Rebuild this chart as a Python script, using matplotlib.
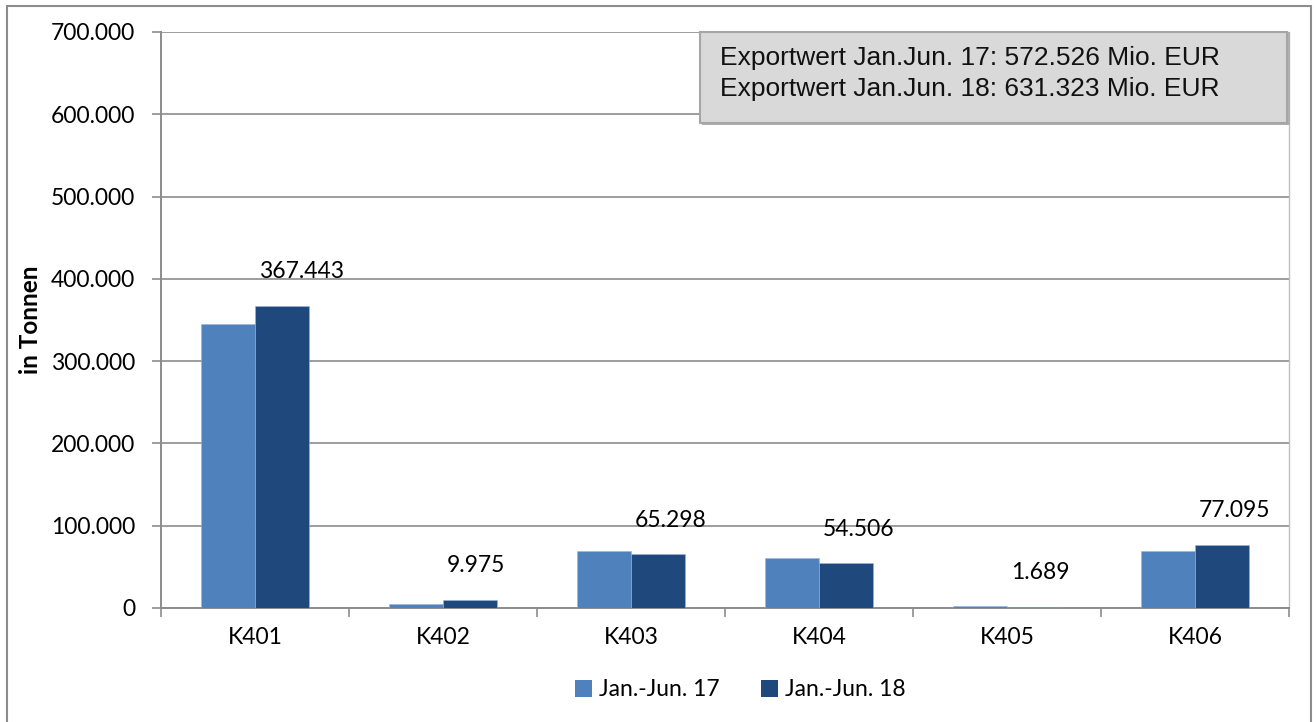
import numpy as np
import matplotlib.pyplot as plt
from matplotlib.patches import Rectangle, Patch

# Exportmengen in Tonnen, Jan.-Jun.
categories = ['K401', 'K402', 'K403', 'K404', 'K405', 'K406']
jan_jun_17 = [345500, 4700, 69000, 60400, 1900, 69800]
jan_jun_18 = [367443, 9975, 65298, 54506, 1689, 77095]
series_names = ['Jan.-Jun. 17', 'Jan.-Jun. 18']
info_lines = ['Exportwert Jan.Jun. 17: 572.526 Mio. EUR',
              'Exportwert Jan.Jun. 18: 631.323 Mio. EUR']

def de_fmt(v):
    return f"{v:,.0f}".replace(',', '.')

grid_col = '#8C8C8C'
c17 = '#4F81BD'
c18 = '#1F497D'
font = 'Lato'

fig = plt.figure(figsize=(13.16, 7.22), dpi=100)
ax = fig.add_axes([161 / 1316, 1 - 608 / 722, (1289 - 161) / 1316, (608 - 32) / 722])

x = np.arange(len(categories))
w = 0.285
ax.bar(x - w / 2, jan_jun_17, w, color=c17, edgecolor='#9DB5D8', linewidth=0.4, zorder=3)
ax.bar(x + w / 2, jan_jun_18, w, color=c18, edgecolor='#9DB5D8', linewidth=0.4, zorder=3)

# data labels only for the 2018 series
for xi, v in zip(x, jan_jun_18):
    ax.annotate(de_fmt(v), (xi, v), xytext=(3, 17), textcoords='offset points',
                ha='left', va='bottom', fontsize=16.5, family=font, color='black')

ax.set_xlim(-0.5, len(categories) - 0.5)
ax.set_ylim(0, 700000)
ax.set_yticks(np.arange(0, 700001, 100000))
ax.set_yticklabels([de_fmt(t) for t in np.arange(0, 700001, 100000)],
                   fontsize=16.5, family=font)
ax.set_xticks(x)
ax.set_xticklabels(categories, fontsize=16.5, family=font)
ax.set_xticks(np.arange(-0.5, len(categories)), minor=True)
ax.tick_params(axis='x', which='major', length=0, pad=14)
ax.tick_params(axis='x', which='minor', length=6.5, width=1.2, color=grid_col)
ax.tick_params(axis='y', length=6.5, width=1.2, color=grid_col, pad=12)

ax.grid(axis='y', color=grid_col, linewidth=1.2, zorder=0)
for s in ['left', 'bottom']:
    ax.spines[s].set_color(grid_col)
    ax.spines[s].set_linewidth(1.4)
ax.spines['top'].set_visible(False)
ax.spines['right'].set_color('#BFBFBF')
ax.spines['right'].set_linewidth(1.0)

fig.text(31 / 1316, 1 - 320 / 722, 'in Tonnen', rotation=90, ha='center', va='center',
         fontsize=17.5, fontweight='bold', family=font)

# info box
fig.patches.append(Rectangle((702 / 1316, 1 - 125 / 722), 588 / 1316, 93 / 722,
                             transform=fig.transFigure, facecolor='#B0B0B0',
                             edgecolor='none', zorder=1))
fig.patches.append(Rectangle((700 / 1316, 1 - 123 / 722), 587 / 1316, 91 / 722,
                             transform=fig.transFigure, facecolor='#D9D9D9',
                             edgecolor='#A6A6A6', linewidth=1.5, zorder=2))
for i, line in enumerate(info_lines):
    fig.text(720 / 1316, 1 - (58 + 31 * i) / 722, line, ha='left', va='center',
             fontsize=19, family='Liberation Sans', color='#111111', zorder=3)

# legend
handles = [Patch(facecolor=c17), Patch(facecolor=c18)]
fig.legend(handles, series_names, loc='center', bbox_to_anchor=(740 / 1316, 1 - 690 / 722),
           ncol=2, frameon=False, prop={'family': font, 'size': 16.5},
           handlelength=0.75, handleheight=0.75, handletextpad=0.3, columnspacing=1.8)

# outer chart border
fig.patches.append(Rectangle((7 / 1316, -0.01), (1311 - 7) / 1316, 1.01 - 6 / 722,
                             transform=fig.transFigure, fill=False,
                             edgecolor=grid_col, linewidth=1.5))

fig.savefig('out.png', dpi=100)
